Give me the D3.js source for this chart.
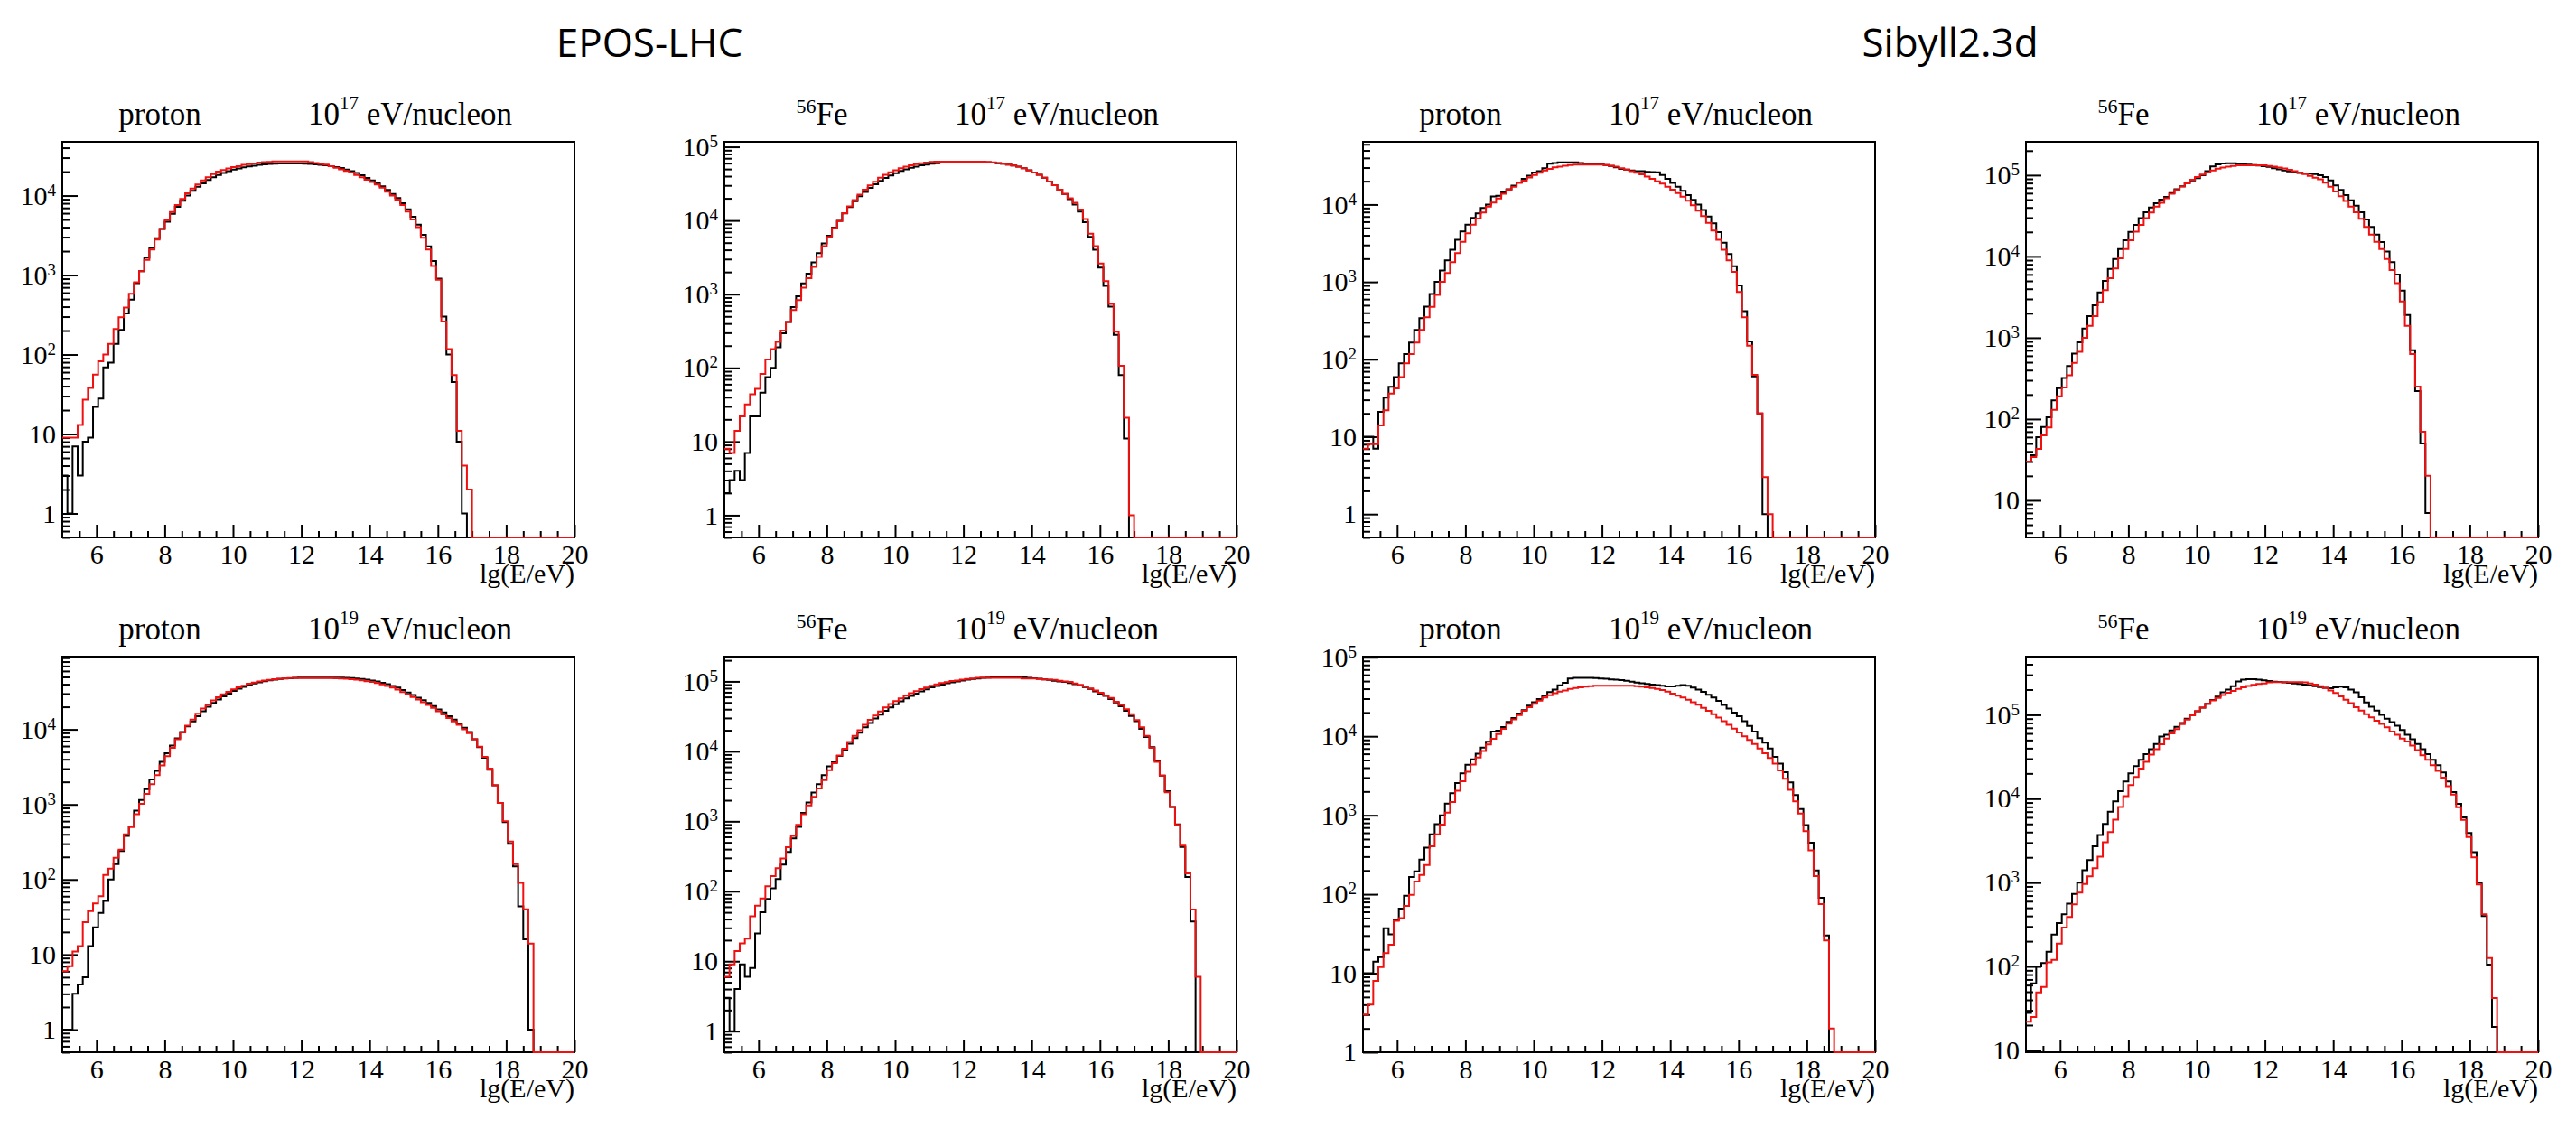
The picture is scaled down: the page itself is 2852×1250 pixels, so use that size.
<!DOCTYPE html>
<html>
<head>
<meta charset="utf-8">
<script src="https://cdn.jsdelivr.net/npm/d3@7"></script>
<style>
  body { margin: 0; background: #fff; }
  text { font-family: "Liberation Serif", "Times New Roman", serif; }
</style>
</head>
<body>
<svg id="chart"></svg>
<script>
// all histograms: 100 bins of 0.15 in lg(E/eV), from 5 to 20
const lgMin = 5, lgMax = 20, binWidth = 0.15;

const models = ['EPOS-LHC', 'Sibyll2.3d'];
const particles = ['proton', 'Fe'];
const energies = [17, 19];

// counts per bin, black = first series, red = second series
const eposP17Black = [
  3, 1, 7, 3, 8, 9, 22, 28, 69, 79,
  136, 204, 330, 490, 790, 1120, 1660, 2200, 2900, 3800,
  4700, 5900, 7200, 8600, 10000, 11500, 12900, 14300, 15700, 17000,
  18200, 19300, 20300, 21200, 22000, 22700, 23300, 23800, 24300, 24700,
  25000, 25200, 25300, 25400, 25400, 25400, 25300, 25200, 25000, 24700,
  24400, 24000, 23500, 22900, 22200, 21300, 20300, 19200, 18000, 16700,
  15500, 14300, 13100, 11800, 10500, 9300, 8000, 6700, 5400, 4300,
  3200, 2300, 1500, 900, 300, 100, 45, 8, 1, 0,
  0, 0, 0, 0, 0, 0, 0, 0, 0, 0,
  0, 0, 0, 0, 0, 0, 0, 0, 0, 0];
const eposP17Red = [
  9, 9, 9, 13, 27, 38, 56, 82, 100, 136,
  210, 295, 390, 580, 810, 1120, 1550, 2100, 2800, 3800,
  4900, 6200, 7600, 9100, 10700, 12300, 13800, 15500, 17000, 18600,
  20000, 20900, 21900, 22900, 23400, 24300, 24800, 25400, 26000, 26300,
  26600, 26900, 26900, 26900, 26900, 26900, 26900, 26900, 26300, 25700,
  25100, 24500, 23400, 22400, 21400, 20400, 19500, 18200, 17000, 15800,
  14800, 13800, 12600, 11200, 10000, 8900, 7600, 6300, 5000, 4000,
  2950, 2100, 1300, 870, 260, 117, 55, 11, 4, 2,
  0, 0, 0, 0, 0, 0, 0, 0, 0, 0,
  0, 0, 0, 0, 0, 0, 0, 0, 0, 0];

const eposFe17Black = [
  2, 3, 4, 3, 7, 22, 22, 46, 75, 100,
  190, 295, 420, 670, 940, 1400, 1900, 2700, 3600, 4900,
  6200, 8000, 9900, 12500, 15200, 18300, 21300, 24500, 27800, 31000,
  34500, 37800, 41000, 44000, 47000, 49500, 52000, 54000, 56000, 57500,
  59000, 60000, 61000, 61500, 62000, 62300, 62500, 62500, 62500, 62300,
  62000, 61700, 61000, 60000, 58900, 57500, 55600, 53700, 51300, 48000,
  44700, 41700, 38000, 33900, 30200, 26300, 22900, 19500, 16500, 13200,
  9500, 6000, 4000, 2300, 1300, 680, 280, 80, 11, 0,
  0, 0, 0, 0, 0, 0, 0, 0, 0, 0,
  0, 0, 0, 0, 0, 0, 0, 0, 0, 0];
const eposFe17Red = [
  8, 7, 14, 22, 32, 44, 52, 83, 130, 180,
  225, 320, 420, 610, 830, 1230, 1650, 2350, 3200, 4500,
  6000, 7900, 9800, 12600, 15500, 19000, 22400, 26300, 30000, 33500,
  38000, 41700, 45000, 48000, 51300, 53700, 56000, 58000, 60000, 61000,
  62400, 63000, 63000, 63000, 63000, 63000, 63000, 63000, 63000, 63000,
  63000, 62400, 61700, 60300, 58900, 57500, 55600, 53700, 51300, 47900,
  44700, 41700, 38000, 33900, 30200, 26300, 22900, 20000, 17400, 14100,
  10500, 6600, 4500, 2600, 1500, 740, 310, 107, 21, 1,
  0, 0, 0, 0, 0, 0, 0, 0, 0, 0,
  0, 0, 0, 0, 0, 0, 0, 0, 0, 0];

const sibP17Black = [
  10, 10, 7, 21, 32, 44, 59, 89, 117, 165,
  240, 340, 480, 700, 1000, 1400, 1900, 2600, 3500, 4500,
  5500, 6700, 7700, 9000, 10000, 12700, 13000, 14300, 15800, 17500,
  19300, 21400, 23600, 25900, 26900, 29500, 33700, 34300, 35100, 35100,
  35100, 35100, 34300, 33900, 33700, 33300, 33000, 32400, 31500, 30200,
  28900, 28200, 27600, 27000, 26900, 26500, 26300, 26000, 24000, 21500,
  19000, 17000, 15000, 13200, 11500, 10000, 8500, 7000, 5700, 4400,
  3200, 2300, 1600, 900, 420, 170, 60, 20, 1, 0,
  0, 0, 0, 0, 0, 0, 0, 0, 0, 0,
  0, 0, 0, 0, 0, 0, 0, 0, 0, 0];
const sibP17Red = [
  7, 8, 8, 14, 22, 36, 42, 59, 89, 117,
  165, 240, 350, 475, 680, 1000, 1300, 1800, 2350, 3300,
  4250, 5500, 6600, 7900, 9400, 10600, 12000, 13800, 15500, 17000,
  19000, 20400, 22400, 24000, 25700, 27500, 28800, 30200, 30900, 31600,
  32400, 32700, 32700, 32700, 32700, 32700, 32700, 32400, 31600, 30900,
  29500, 28200, 26900, 25700, 24500, 22900, 21400, 20000, 18600, 17000,
  15500, 14100, 12600, 11200, 9800, 8300, 7100, 5800, 4600, 3500,
  2600, 1900, 1350, 740, 350, 150, 63, 20, 3, 1,
  0, 0, 0, 0, 0, 0, 0, 0, 0, 0,
  0, 0, 0, 0, 0, 0, 0, 0, 0, 0];

const sibFe17Black = [
  30, 36, 60, 80, 105, 170, 240, 320, 450, 640,
  880, 1300, 1850, 2500, 3600, 5000, 7000, 9300, 12300, 15800,
  20000, 24500, 29500, 35000, 40000, 45000, 50000, 54000, 60000, 67000,
  73000, 80000, 86000, 92000, 100000, 112000, 128000, 136000, 139000, 140000,
  140000, 139000, 137000, 135000, 133000, 131000, 129000, 126000, 122000, 118000,
  114000, 111000, 108000, 106000, 105000, 104000, 103000, 100000, 95000, 86000,
  75000, 66000, 57000, 49000, 42000, 35000, 28500, 23000, 18500, 15000,
  11500, 8500, 6000, 3800, 1900, 700, 220, 50, 7, 0,
  0, 0, 0, 0, 0, 0, 0, 0, 0, 0,
  0, 0, 0, 0, 0, 0, 0, 0, 0, 0];
const sibFe17Red = [
  30, 34, 43, 63, 79, 130, 190, 245, 345, 490,
  670, 1000, 1400, 1850, 2750, 3850, 5400, 7100, 9500, 12300,
  15800, 20200, 24500, 29500, 34700, 41000, 45700, 52000, 59000, 66000,
  72400, 79400, 87700, 94500, 102000, 108000, 114000, 120000, 124000, 127000,
  130000, 132000, 132000, 132000, 132000, 132000, 132000, 130000, 127000, 124000,
  121000, 116000, 112000, 108000, 103000, 98000, 93000, 89000, 81000, 72000,
  63000, 55000, 48000, 41000, 35000, 29000, 23000, 18600, 15100, 12300,
  9300, 6800, 4700, 2800, 1400, 630, 250, 70, 20, 0,
  0, 0, 0, 0, 0, 0, 0, 0, 0, 0,
  0, 0, 0, 0, 0, 0, 0, 0, 0, 0];

const eposP19Black = [
  1, 1, 3, 4, 5, 13, 23, 36, 52, 100,
  160, 240, 380, 510, 830, 1150, 1600, 2150, 2800, 3700,
  4800, 6100, 7600, 9200, 11000, 12800, 15000, 17500, 20000, 22500,
  25000, 27500, 30000, 32500, 35000, 37000, 39000, 41000, 42500, 44000,
  45000, 46000, 47000, 47500, 48000, 48500, 49000, 49000, 49000, 49000,
  49000, 49000, 49000, 49000, 49000, 48800, 48400, 47800, 47000, 46000,
  44800, 43400, 41800, 40000, 38000, 36000, 33500, 31000, 28800, 26500,
  24500, 22500, 20500, 18500, 16800, 15000, 13500, 12000, 10500, 9200,
  7400, 5800, 4200, 2900, 1800, 1050, 580, 300, 150, 44,
  16, 1, 0, 0, 0, 0, 0, 0, 0, 0];
const eposP19Red = [
  6, 7, 11, 13, 27, 38, 48, 60, 115, 140,
  195, 250, 400, 500, 740, 1020, 1380, 1860, 2460, 3300,
  4400, 5700, 7400, 9100, 11200, 13500, 16200, 19000, 21400, 24300,
  26900, 29300, 31600, 34100, 36300, 38300, 40500, 42000, 43500, 44800,
  45800, 46600, 47300, 47900, 48300, 48400, 48400, 48400, 48400, 48400,
  48400, 48400, 48300, 48100, 47800, 47300, 46700, 45900, 45000, 44000,
  42800, 41400, 39800, 38000, 36000, 34000, 31500, 29200, 27000, 25000,
  23000, 21200, 19400, 17500, 15800, 14200, 12800, 11500, 10000, 8900,
  7400, 5900, 4300, 3000, 1800, 1050, 600, 320, 160, 90,
  40, 14, 0, 0, 0, 0, 0, 0, 0, 0];

const eposFe19Black = [
  3, 1, 4, 9, 6, 8, 25, 50, 78, 110,
  150, 240, 365, 570, 830, 1320, 1860, 2570, 3390, 4570,
  6100, 7000, 8600, 10500, 12800, 15500, 18500, 22000, 25500, 29500,
  33500, 38000, 42500, 47000, 52000, 57000, 62000, 67000, 72000, 77000,
  82000, 86000, 90000, 94000, 97000, 100000, 103000, 106000, 108000, 110000,
  112000, 113000, 114000, 115000, 115000, 116000, 116000, 115000, 114000, 112000,
  111000, 109000, 107000, 105000, 102000, 100000, 98000, 95000, 91000, 87000,
  83000, 78000, 72000, 67000, 62000, 56000, 50000, 44000, 38000, 32000,
  27000, 21000, 16000, 11500, 7400, 4500, 2700, 1600, 900, 430,
  160, 37, 0, 0, 0, 0, 0, 0, 0, 0];
const eposFe19Red = [
  6, 9, 14, 18, 21, 44, 62, 79, 118, 165,
  214, 295, 427, 617, 890, 1260, 1690, 2240, 2950, 3890,
  5370, 6760, 8700, 10900, 13600, 16600, 20000, 24000, 28200, 32400,
  37200, 42300, 47300, 52300, 57300, 62600, 67700, 72300, 77300, 81800,
  86400, 90500, 94600, 97800, 101000, 103000, 106000, 108000, 110000, 112000,
  112000, 112000, 112000, 112000, 112000, 112000, 112000, 112000, 110000, 110000,
  110000, 108000, 107000, 106000, 105000, 102000, 100000, 98000, 93000, 89000,
  85000, 79000, 74000, 69000, 63000, 58000, 51000, 46000, 40000, 34000,
  28000, 22000, 16600, 11200, 7100, 4500, 2600, 1600, 890, 450,
  180, 55, 6, 0, 0, 0, 0, 0, 0, 0];

const sibP19Black = [
  10, 10, 14, 16, 37, 31, 47, 66, 96, 165,
  195, 275, 390, 575, 770, 1000, 1400, 1900, 2550, 3400,
  4350, 5100, 6000, 7200, 8500, 11500, 11800, 13100, 15200, 17000,
  19400, 21500, 24500, 26900, 29600, 32700, 36300, 39000, 44300, 47600,
  54000, 55000, 55000, 55000, 55000, 54500, 54000, 53500, 52500, 52000,
  51300, 50500, 49000, 48000, 47000, 46000, 45200, 44500, 43500, 42700,
  42700, 43500, 44500, 43500, 41500, 39000, 36500, 33500, 31000, 28000,
  25000, 22500, 20000, 18000, 15500, 13500, 11500, 9500, 8300, 7000,
  5500, 4500, 3500, 2600, 1800, 1200, 750, 450, 200, 90,
  30, 0, 0, 0, 0, 0, 0, 0, 0, 0];
const sibP19Red = [
  3, 4, 8, 12, 18, 23, 46, 50, 71, 98,
  145, 175, 235, 405, 575, 760, 1080, 1470, 2040, 2690,
  3550, 4400, 5370, 6500, 7900, 9300, 10700, 12400, 14400, 16400,
  18600, 21000, 23300, 25800, 28200, 30900, 33000, 35000, 36700, 38100,
  39800, 40900, 41700, 42600, 43100, 43500, 43500, 43500, 43500, 43500,
  43500, 43500, 43500, 43100, 42600, 41700, 40900, 39800, 38500, 36800,
  34700, 32600, 30900, 29000, 26900, 25100, 22900, 21000, 19100, 17200,
  15500, 14000, 12500, 11200, 10000, 9000, 8000, 7000, 6100, 5300,
  4500, 3700, 2900, 2100, 1500, 1050, 630, 360, 170, 75,
  26, 2, 0, 0, 0, 0, 0, 0, 0, 0];

const sibFe19Black = [
  28, 63, 100, 110, 150, 240, 330, 420, 560, 730,
  1000, 1400, 1850, 2700, 3700, 5000, 7000, 9300, 12300, 16000,
  20000, 24500, 29000, 34000, 39000, 45000, 55000, 58000, 65000, 72000,
  80000, 90000, 100000, 110000, 122000, 135000, 150000, 165000, 185000, 200000,
  220000, 250000, 262000, 265000, 265000, 263000, 258000, 253000, 249000, 246000,
  244000, 241000, 237000, 233000, 229000, 224000, 219000, 214000, 210000, 208000,
  212000, 216000, 212000, 200000, 185000, 162000, 140000, 125000, 112000, 100000,
  90000, 82000, 74000, 66000, 58000, 51000, 45000, 39000, 34000, 29000,
  25000, 20500, 16000, 12000, 8700, 6000, 3900, 2300, 1000, 400,
  105, 19, 0, 0, 0, 0, 0, 0, 0, 0];
const sibFe19Red = [
  22, 25, 49, 57, 112, 120, 187, 290, 390, 550,
  760, 960, 1190, 1480, 2040, 3020, 3990, 5620, 7940, 10700,
  14500, 18200, 22900, 27500, 33500, 38900, 44500, 52000, 60000, 67600,
  77600, 87900, 98800, 110000, 122000, 135000, 148000, 159000, 172000, 183000,
  193000, 203000, 213000, 221000, 227000, 233000, 237000, 243000, 245000, 245000,
  245000, 245000, 245000, 245000, 243000, 237000, 229000, 219000, 209000, 195000,
  182000, 166000, 151000, 138000, 123000, 112000, 102000, 93000, 85000, 78000,
  71000, 63000, 58000, 52000, 48000, 43000, 38000, 33000, 29000, 25000,
  21400, 17800, 14100, 11200, 7900, 5600, 3500, 2000, 950, 420,
  126, 42, 0, 0, 0, 0, 0, 0, 0, 0];

// y axis ranges (counts) of each pad, as in the picture
const yRanges = [
  [0.5, 47500], [0.5, 117000], [0.5, 64600], [3.5, 257000],
  [0.5, 93300], [0.5, 226000], [1, 102000], [9.5, 494000]
];

const panels = [
  {model: 0, particle: 0, energy: 0, black: eposP17Black, red: eposP17Red},
  {model: 0, particle: 1, energy: 0, black: eposFe17Black, red: eposFe17Red},
  {model: 1, particle: 0, energy: 0, black: sibP17Black, red: sibP17Red},
  {model: 1, particle: 1, energy: 0, black: sibFe17Black, red: sibFe17Red},
  {model: 0, particle: 0, energy: 1, black: eposP19Black, red: eposP19Red},
  {model: 0, particle: 1, energy: 1, black: eposFe19Black, red: eposFe19Red},
  {model: 1, particle: 0, energy: 1, black: sibP19Black, red: sibP19Red},
  {model: 1, particle: 1, energy: 1, black: sibFe19Black, red: sibFe19Red}
];

const W = 2852, H = 1250;
const colX = [69, 802, 1509, 2243];
const rowY = [157, 727];
const pw = 567, ph = 438;

const svg = d3.select('#chart').attr('width', W).attr('height', H);
svg.append('rect').attr('width', W).attr('height', H).attr('fill', '#fff');

// model headers
[[719, 0], [2159, 1]].forEach(([cx, m]) => {
  svg.append('text')
    .attr('x', cx).attr('y', 63)
    .attr('text-anchor', 'middle')
    .style('font-family', '"Open Sans", sans-serif')
    .style('font-size', '44px')
    .text(models[m]);
});

const isDecade = v => Math.abs(Math.log10(v) - Math.round(Math.log10(v))) < 1e-9;

panels.forEach((p, i) => {
  const left = colX[i % 4], top = rowY[Math.floor(i / 4)];
  const g = svg.append('g').attr('transform', `translate(${left},${top})`);

  const x = d3.scaleLinear().domain([lgMin, lgMax]).range([0, pw]);
  const y = d3.scaleLog().domain(yRanges[i]).range([ph, 0]).clamp(true);

  // frame
  g.append('rect')
    .attr('width', pw).attr('height', ph)
    .attr('fill', 'none').attr('stroke', '#000').attr('stroke-width', 2);

  // x axis: minor every 0.5, major every 2
  const xMinor = d3.range(5.5, 20, 0.5).filter(v => v % 2 !== 0);
  g.append('g').attr('transform', `translate(0,${ph})`)
    .call(d3.axisBottom(x).tickValues(xMinor).tickSizeInner(-7).tickSizeOuter(0).tickFormat(''))
    .call(a => a.select('.domain').remove());
  const xAx = g.append('g').attr('transform', `translate(0,${ph})`)
    .call(d3.axisBottom(x).tickValues(d3.range(6, 21, 2)).tickSizeInner(-14).tickSizeOuter(0).tickPadding(8))
    .call(a => a.select('.domain').remove());
  xAx.attr('font-size', 30).attr('font-family', '"Liberation Serif", serif');
  g.selectAll('.tick line').attr('stroke-width', 2);

  // y axis: log, minor 2..9, decades labelled
  const allTicks = y.ticks();
  const majors = allTicks.filter(isDecade);
  const minors = allTicks.filter(v => !isDecade(v));
  g.append('g')
    .call(d3.axisLeft(y).tickValues(minors).tickSizeInner(-8).tickSizeOuter(0).tickFormat(''))
    .call(a => a.select('.domain').remove());
  const yAx = g.append('g')
    .call(d3.axisLeft(y).tickValues(majors).tickSizeInner(-17).tickSizeOuter(0).tickPadding(7).tickFormat(''))
    .call(a => a.select('.domain').remove());
  yAx.attr('font-size', 30).attr('font-family', '"Liberation Serif", serif');
  yAx.selectAll('.tick text').each(function(d) {
    const n = Math.round(Math.log10(d));
    const t = d3.select(this);
    if (n < 2) {
      t.text(n === 0 ? '1' : '10');
    } else {
      t.append('tspan').text('10');
      t.append('tspan').attr('dy', -10).attr('font-size', 19).text(n);
    }
  });
  g.selectAll('.tick line').attr('stroke-width', 2);

  // histograms (step lines); empty bins sit on the lower edge
  const line = d3.line()
    .x(d => x(d.e))
    .y(d => y(d.v > 0 ? d.v : yRanges[i][0]))
    .curve(d3.curveStepAfter);
  const steps = vals => vals.map((v, k) => ({e: lgMin + k * binWidth, v: v}))
    .concat([{e: lgMax, v: vals[vals.length - 1]}]);

  g.append('path').datum(steps(p.black))
    .attr('d', line).attr('fill', 'none')
    .attr('stroke', '#000').attr('stroke-width', 2);
  g.append('path').datum(steps(p.red))
    .attr('d', line).attr('fill', 'none')
    .attr('stroke', '#f01010').attr('stroke-width', 2);

  // x title
  g.append('text')
    .attr('x', pw).attr('y', ph + 50)
    .attr('text-anchor', 'end')
    .style('font-size', '30px')
    .text('lg(E/eV)');

  // pad titles
  const ty = -19;
  const pt = g.append('text')
    .attr('x', 108).attr('y', ty)
    .attr('text-anchor', 'middle')
    .style('font-size', '35px');
  if (p.particle === 0) {
    pt.text(particles[0]);
  } else {
    pt.append('tspan').attr('font-size', 22).attr('dy', -13).text('56');
    pt.append('tspan').attr('dy', 13).text(particles[1]);
  }
  const et = g.append('text')
    .attr('x', p.particle === 0 ? 272 : 255).attr('y', ty)
    .style('font-size', '35px')
    .style('white-space', 'pre');
  et.append('tspan').text('10');
  et.append('tspan').attr('font-size', 21).attr('dy', -17).text(energies[p.energy]);
  et.append('tspan').attr('dy', 17).text(' eV/nucleon');
});
</script>
</body>
</html>
